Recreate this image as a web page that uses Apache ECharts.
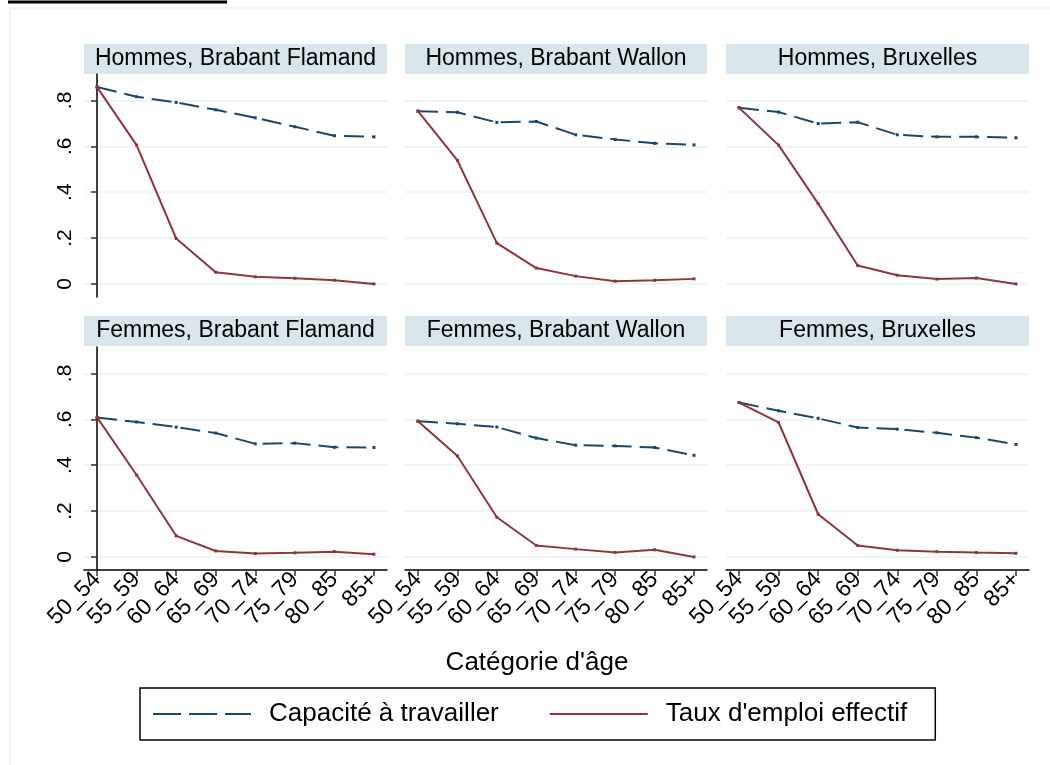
<!DOCTYPE html>
<html>
<head>
<meta charset="utf-8">
<script src="https://cdn.jsdelivr.net/npm/echarts@6/dist/echarts.min.js"></script>
<style>
  html, body { margin: 0; padding: 0; background: #fff; }
  #chart { width: 1050px; height: 765px; }
</style>
</head>
<body>
<div id="chart"></div>
<script>
// catégories d'âge (axe x)
const ages = ["50_54", "55_59", "60_64", "65_69", "70_74", "75_79", "80_85", "85+"];
const yTicks = [0, 0.2, 0.4, 0.6, 0.8];

// titres des panneaux
const panelTitles = [
  "Hommes, Brabant Flamand", "Hommes, Brabant Wallon", "Hommes, Bruxelles",
  "Femmes, Brabant Flamand", "Femmes, Brabant Wallon", "Femmes, Bruxelles"
];

// Capacité à travailler
const capHommesFlamand = [0.858, 0.816, 0.791, 0.759, 0.724, 0.685, 0.646, 0.641];
const capHommesWallon  = [0.753, 0.748, 0.704, 0.708, 0.650, 0.630, 0.613, 0.606];
const capHommesBxl     = [0.768, 0.749, 0.699, 0.705, 0.650, 0.641, 0.641, 0.637];
const capFemmesFlamand = [0.608, 0.588, 0.566, 0.540, 0.493, 0.496, 0.478, 0.477];
const capFemmesWallon  = [0.591, 0.580, 0.566, 0.518, 0.487, 0.484, 0.477, 0.443];
const capFemmesBxl     = [0.673, 0.637, 0.604, 0.564, 0.557, 0.541, 0.520, 0.490];

// Taux d'emploi effectif
const tauxHommesFlamand = [0.858, 0.605, 0.198, 0.051, 0.031, 0.025, 0.016, 0.000];
const tauxHommesWallon  = [0.753, 0.538, 0.178, 0.069, 0.034, 0.012, 0.016, 0.022];
const tauxHommesBxl     = [0.768, 0.605, 0.350, 0.080, 0.038, 0.021, 0.026, 0.000];
const tauxFemmesFlamand = [0.608, 0.357, 0.092, 0.026, 0.015, 0.018, 0.023, 0.012];
const tauxFemmesWallon  = [0.591, 0.440, 0.173, 0.050, 0.034, 0.019, 0.031, 0.000];
const tauxFemmesBxl     = [0.673, 0.586, 0.186, 0.050, 0.029, 0.023, 0.019, 0.016];

const capData = [capHommesFlamand, capHommesWallon, capHommesBxl, capFemmesFlamand, capFemmesWallon, capFemmesBxl];
const tauxData = [tauxHommesFlamand, tauxHommesWallon, tauxHommesBxl, tauxFemmesFlamand, tauxFemmesWallon, tauxFemmesBxl];

const FONT = "Liberation Sans, Arial, sans-serif";
const NAVY = "#1a476f";
const MAROON = "#90353b";

const colLeft = [84, 405, 726];
const colWidth = [303, 302, 303];
const rowTop = [74, 347];
const plotH = 223;

const grids = [], xAxes = [], yAxes = [], series = [], graphics = [];

for (let i = 0; i < 6; i++) {
  const r = Math.floor(i / 3), c = i % 3;
  grids.push({ left: colLeft[c], top: rowTop[r], width: colWidth[c], height: plotH });

  const bottomRow = r === 1;
  xAxes.push({
    type: "value", gridIndex: i, min: -0.33, max: 7.33,
    axisLine: { show: bottomRow, onZero: false, lineStyle: { color: "#000", width: 1.5 } },
    axisTick: { show: bottomRow, length: 6, customValues: [0, 1, 2, 3, 4, 5, 6, 7], lineStyle: { color: "#333", width: 1.5 } },
    axisLabel: {
      show: bottomRow, customValues: [0, 1, 2, 3, 4, 5, 6, 7], rotate: 45, margin: 6,
      fontFamily: FONT, fontSize: 23, color: "#000",
      formatter: v => ages[Math.round(v)]
    },
    splitLine: { show: false }
  });

  const leftCol = c === 0;
  yAxes.push({
    type: "value", gridIndex: i, min: -0.057, max: 0.915,
    axisLine: { show: leftCol, lineStyle: { color: "#000", width: 1.5 } },
    axisTick: { show: leftCol, length: 6, customValues: yTicks, lineStyle: { color: "#333", width: 1.5 } },
    axisLabel: {
      show: leftCol, customValues: yTicks, rotate: 90, margin: 8,
      fontFamily: FONT, fontSize: 21, color: "#000",
      formatter: v => v === 0 ? "0" : v.toFixed(1).replace(/^0/, "")
    },
    splitLine: { show: true, lineStyle: { color: "#eaf0f2", width: 1.5 } }
  });

  series.push({
    name: "Capacité à travailler", type: "line", xAxisIndex: i, yAxisIndex: i,
    data: capData[i].map((v, k) => [k, v]),
    symbol: "rect", symbolSize: 3, itemStyle: { color: NAVY },
    lineStyle: { color: NAVY, width: 2, type: [20, 8] }, z: 2
  });
  series.push({
    name: "Taux d'emploi effectif", type: "line", xAxisIndex: i, yAxisIndex: i,
    data: tauxData[i].map((v, k) => [k, v]),
    symbol: "rect", symbolSize: 3, itemStyle: { color: MAROON },
    lineStyle: { color: MAROON, width: 2 }, z: 3
  });

  // bandeau de titre du panneau
  const hTop = r === 0 ? 44 : 316;
  graphics.push({
    type: "rect", left: colLeft[c], top: hTop,
    shape: { width: colWidth[c], height: 30 },
    style: { fill: "#d9e6eb" }, silent: true
  });
  graphics.push({
    type: "text", x: colLeft[c] + colWidth[c] / 2, y: hTop + 15,
    style: { text: panelTitles[i], fill: "#000", font: "23px " + FONT, align: "center", verticalAlign: "middle" },
    silent: true
  });
}

// cadre extérieur pâle et reste du titre coupé
graphics.push({ type: "rect", shape: { x: 10, y: 8, width: 1060, height: 780 }, style: { fill: null, stroke: "#e6eef0", lineWidth: 1.5 }, silent: true, z: -1 });
graphics.push({ type: "line", shape: { x1: 8, y1: 2, x2: 227, y2: 2 }, style: { stroke: "#000", lineWidth: 3 }, silent: true });
graphics.push({
  type: "text", x: 537, y: 663,
  style: { text: "Catégorie d'âge", fill: "#000", font: "26px " + FONT, align: "center", verticalAlign: "middle" },
  silent: true
});

const chart = echarts.init(document.getElementById("chart"), null, { renderer: "canvas" });
chart.setOption({
  animation: false,
  backgroundColor: "#fff",
  grid: grids,
  xAxis: xAxes,
  yAxis: yAxes,
  series: series,
  graphic: graphics,
  legend: {
    left: 140, top: 688,
    orient: "horizontal",
    data: [
      { name: "Capacité à travailler", lineStyle: { type: [28, 8] } },
      { name: "Taux d'emploi effectif" }
    ],
    itemWidth: 98, itemHeight: 14, itemGap: 50,
    padding: [13, 28, 13, 12],
    borderColor: "#000", borderWidth: 1.5,
    itemStyle: { opacity: 0 },
    textStyle: { fontFamily: FONT, fontSize: 26, color: "#000", padding: [0, 0, 0, 13] },
    selectedMode: false
  }
});
</script>
</body>
</html>
